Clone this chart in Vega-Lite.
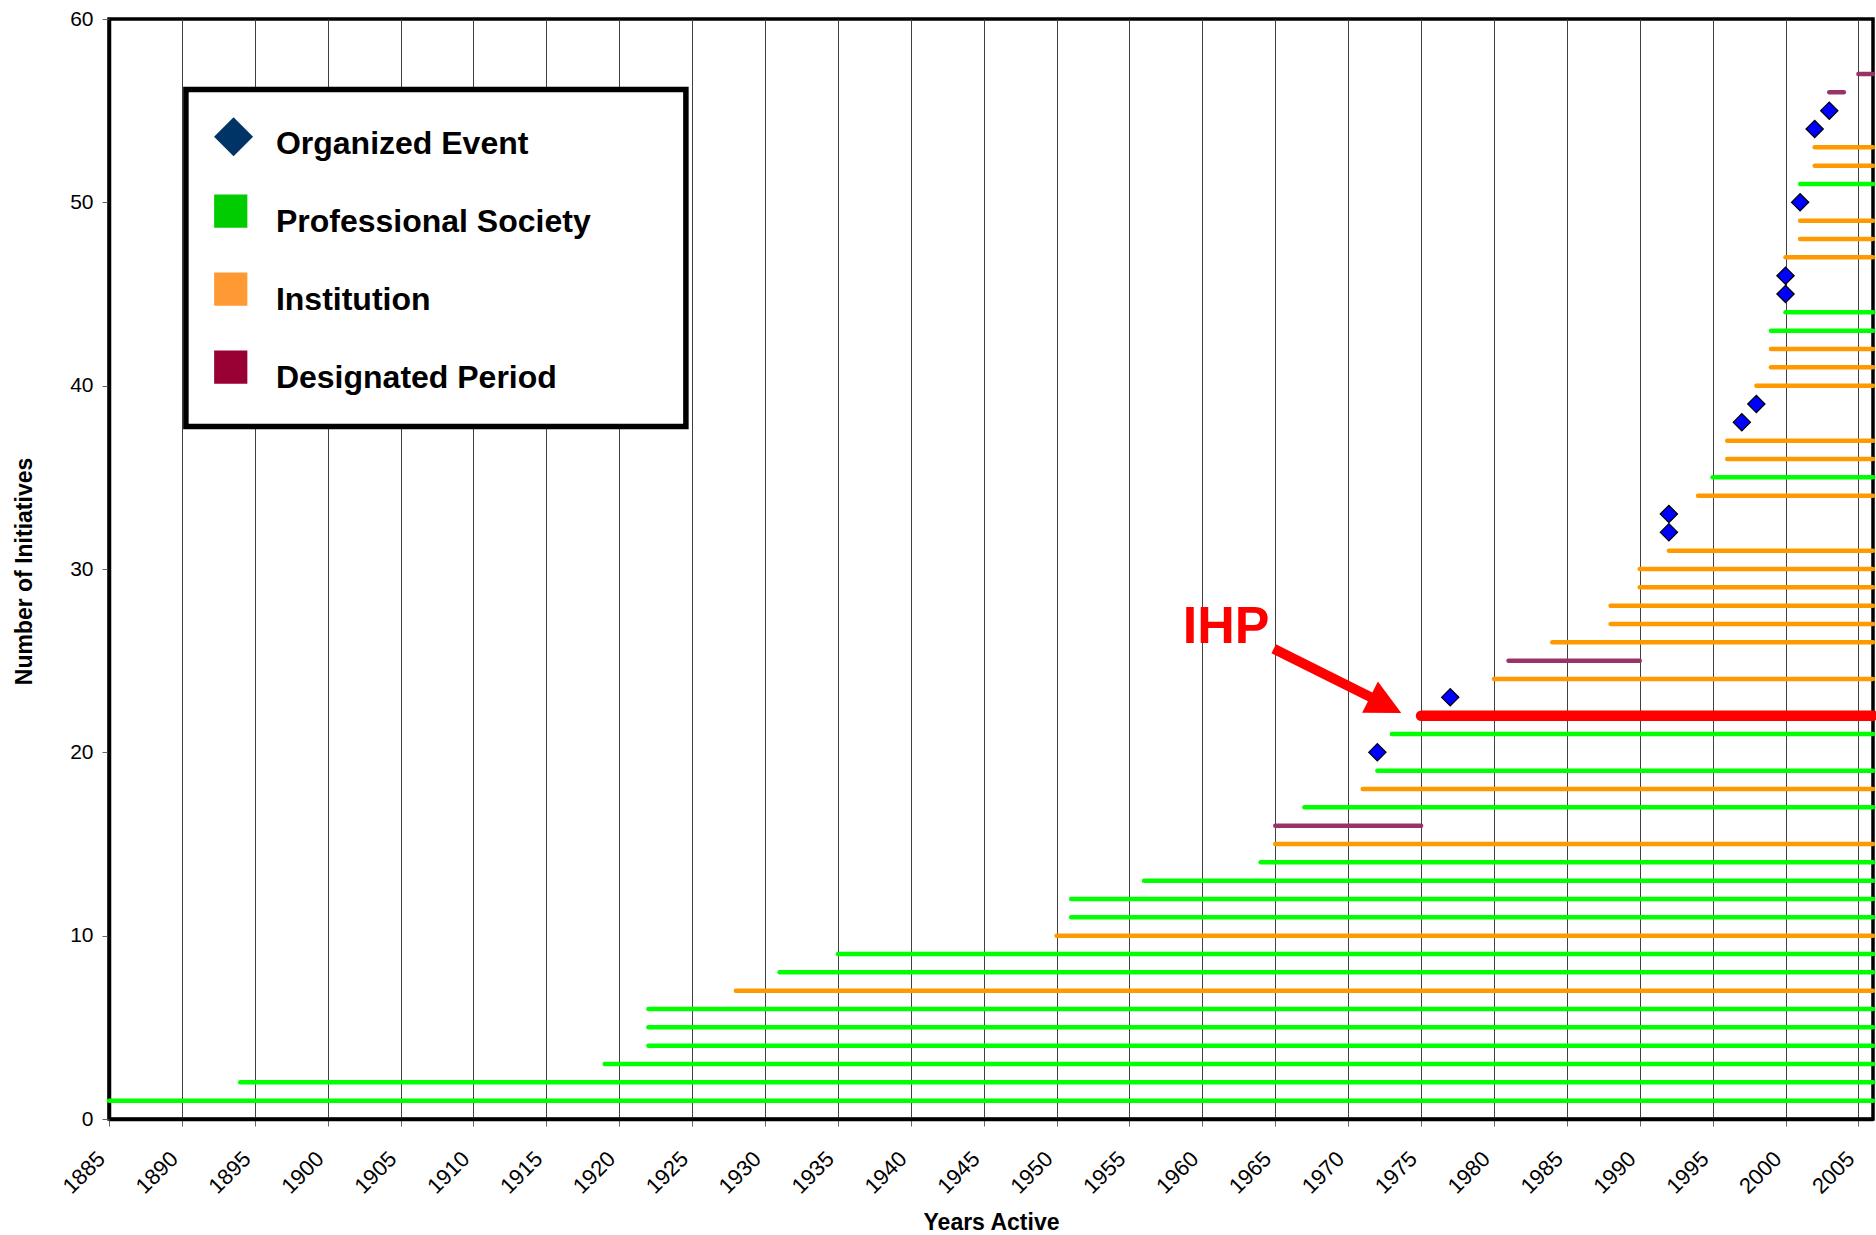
{
  "$schema": "https://vega.github.io/schema/vega-lite/v6.json",
  "width": 1764,
  "height": 1100,
  "autosize": {"type": "none"},
  "padding": {"left": 109, "top": 19, "right": 3, "bottom": 116},
  "background": "white",
  "config": {
    "font": "Liberation Sans",
    "view": {"stroke": "black", "strokeWidth": 3.5},
    "legend": {"strokeWidth": 5.5}
  },
  "datasets": {
    "items": [
      {"row": 1, "start": 1885, "end": 2006, "type": "Professional Society", "name": ""},
      {"row": 2, "start": 1894, "end": 2006, "type": "Professional Society", "name": ""},
      {"row": 3, "start": 1919, "end": 2006, "type": "Professional Society", "name": ""},
      {"row": 4, "start": 1922, "end": 2006, "type": "Professional Society", "name": ""},
      {"row": 5, "start": 1922, "end": 2006, "type": "Professional Society", "name": ""},
      {"row": 6, "start": 1922, "end": 2006, "type": "Professional Society", "name": ""},
      {"row": 7, "start": 1928, "end": 2006, "type": "Institution", "name": ""},
      {"row": 8, "start": 1931, "end": 2006, "type": "Professional Society", "name": ""},
      {"row": 9, "start": 1935, "end": 2006, "type": "Professional Society", "name": ""},
      {"row": 10, "start": 1950, "end": 2006, "type": "Institution", "name": ""},
      {"row": 11, "start": 1951, "end": 2006, "type": "Professional Society", "name": ""},
      {"row": 12, "start": 1951, "end": 2006, "type": "Professional Society", "name": ""},
      {"row": 13, "start": 1956, "end": 2006, "type": "Professional Society", "name": ""},
      {"row": 14, "start": 1964, "end": 2006, "type": "Professional Society", "name": ""},
      {"row": 15, "start": 1965, "end": 2006, "type": "Institution", "name": ""},
      {"row": 16, "start": 1965, "end": 1975, "type": "Designated Period", "name": ""},
      {"row": 17, "start": 1967, "end": 2006, "type": "Professional Society", "name": ""},
      {"row": 18, "start": 1971, "end": 2006, "type": "Institution", "name": ""},
      {"row": 19, "start": 1972, "end": 2006, "type": "Professional Society", "name": ""},
      {"row": 20, "start": 1972, "end": null, "type": "Organized Event", "name": ""},
      {"row": 21, "start": 1973, "end": 2006, "type": "Professional Society", "name": ""},
      {"row": 22, "start": 1975, "end": 2006, "type": "Institution", "name": "IHP"},
      {"row": 23, "start": 1977, "end": null, "type": "Organized Event", "name": ""},
      {"row": 24, "start": 1980, "end": 2006, "type": "Institution", "name": ""},
      {"row": 25, "start": 1981, "end": 1990, "type": "Designated Period", "name": ""},
      {"row": 26, "start": 1984, "end": 2006, "type": "Institution", "name": ""},
      {"row": 27, "start": 1988, "end": 2006, "type": "Institution", "name": ""},
      {"row": 28, "start": 1988, "end": 2006, "type": "Institution", "name": ""},
      {"row": 29, "start": 1990, "end": 2006, "type": "Institution", "name": ""},
      {"row": 30, "start": 1990, "end": 2006, "type": "Institution", "name": ""},
      {"row": 31, "start": 1992, "end": 2006, "type": "Institution", "name": ""},
      {"row": 32, "start": 1992, "end": null, "type": "Organized Event", "name": ""},
      {"row": 33, "start": 1992, "end": null, "type": "Organized Event", "name": ""},
      {"row": 34, "start": 1994, "end": 2006, "type": "Institution", "name": ""},
      {"row": 35, "start": 1995, "end": 2006, "type": "Professional Society", "name": ""},
      {"row": 36, "start": 1996, "end": 2006, "type": "Institution", "name": ""},
      {"row": 37, "start": 1996, "end": 2006, "type": "Institution", "name": ""},
      {"row": 38, "start": 1997, "end": null, "type": "Organized Event", "name": ""},
      {"row": 39, "start": 1998, "end": null, "type": "Organized Event", "name": ""},
      {"row": 40, "start": 1998, "end": 2006, "type": "Institution", "name": ""},
      {"row": 41, "start": 1999, "end": 2006, "type": "Institution", "name": ""},
      {"row": 42, "start": 1999, "end": 2006, "type": "Institution", "name": ""},
      {"row": 43, "start": 1999, "end": 2006, "type": "Professional Society", "name": ""},
      {"row": 44, "start": 2000, "end": 2006, "type": "Professional Society", "name": ""},
      {"row": 45, "start": 2000, "end": null, "type": "Organized Event", "name": ""},
      {"row": 46, "start": 2000, "end": null, "type": "Organized Event", "name": ""},
      {"row": 47, "start": 2000, "end": 2006, "type": "Institution", "name": ""},
      {"row": 48, "start": 2001, "end": 2006, "type": "Institution", "name": ""},
      {"row": 49, "start": 2001, "end": 2006, "type": "Institution", "name": ""},
      {"row": 50, "start": 2001, "end": null, "type": "Organized Event", "name": ""},
      {"row": 51, "start": 2001, "end": 2006, "type": "Professional Society", "name": ""},
      {"row": 52, "start": 2002, "end": 2006, "type": "Institution", "name": ""},
      {"row": 53, "start": 2002, "end": 2006, "type": "Institution", "name": ""},
      {"row": 54, "start": 2002, "end": null, "type": "Organized Event", "name": ""},
      {"row": 55, "start": 2003, "end": null, "type": "Organized Event", "name": ""},
      {"row": 56, "start": 2003, "end": 2004, "type": "Designated Period", "name": ""},
      {"row": 57, "start": 2005, "end": 2006, "type": "Designated Period", "name": ""}
    ]
  },
  "layer": [
    {
      "data": {"name": "items"},
      "transform": [{"filter": "datum.type !== 'Organized Event'"}],
      "mark": {"type": "rule", "strokeCap": "round"},
      "encoding": {
        "x": {
          "field": "start", "type": "quantitative", "title": "Years Active",
          "scale": {"domain": [1885, 2006], "nice": false, "zero": false},
          "axis": {
            "values": [1885,1890,1895,1900,1905,1910,1915,1920,1925,1930,1935,1940,1945,1950,1955,1960,1965,1970,1975,1980,1985,1990,1995,2000,2005],
            "format": "d",
            "grid": true, "gridColor": "#404040", "gridWidth": 1,
            "domainColor": "black", "domainWidth": 3.5,
            "tickColor": "#666666", "tickSize": 7, "tickWidth": 1,
            "labelAngle": -45, "labelAlign": "right", "labelBaseline": "middle",
            "labelPadding": 29, "labelOffset": -8,
            "labelFontSize": 22, "labelColor": "black", "labelFont": "Liberation Sans",
            "labelOverlap": false, "labelFlush": false, "labelBound": false,
            "titleFontSize": 23, "titleFontWeight": "bold", "titleColor": "black", "titleFont": "Liberation Sans",
            "titleY": 110, "titleBaseline": "alphabetic"
          }
        },
        "x2": {"field": "end"},
        "y": {
          "field": "row", "type": "quantitative", "title": "Number of Initiatives",
          "scale": {"domain": [0, 60], "nice": false},
          "axis": {
            "values": [0, 10, 20, 30, 40, 50, 60],
            "grid": false,
            "domainColor": "black", "domainWidth": 3.5,
            "tickColor": "#666666", "tickSize": 7, "tickWidth": 1,
            "labelPadding": 9, "labelFontSize": 21, "labelColor": "black", "labelFont": "Liberation Sans",
            "labelFlush": false,
            "titleFontSize": 23, "titleFontWeight": "bold", "titleColor": "black", "titleFont": "Liberation Sans",
            "titleX": -85, "titleY": 552, "titleAngle": 270, "titleAlign": "center", "titleBaseline": "middle"
          }
        },
        "stroke": {
          "field": "type", "type": "nominal",
          "scale": {"domain": ["Professional Society", "Institution", "Designated Period"], "range": ["#00FF00", "#FF9900", "#993366"]},
          "legend": null,
          "condition": {"test": "datum.name === 'IHP'", "value": "#FF0000"}
        },
        "strokeWidth": {"condition": {"test": "datum.name === 'IHP'", "value": 10.5}, "value": 4.5}
      }
    },
    {
      "data": {"name": "items"},
      "transform": [{"filter": "datum.type === 'Organized Event'"}],
      "mark": {"type": "point", "shape": "diamond", "filled": true, "fill": "#0000FF", "stroke": "black", "strokeWidth": 1.2, "size": 300, "opacity": 1},
      "encoding": {
        "x": {"field": "start", "type": "quantitative", "title": "Years Active"},
        "y": {"field": "row", "type": "quantitative", "title": "Number of Initiatives"}
      }
    },
    {
      "data": {"values": [{"x": 1964.89, "y": 25.65, "x2": 1972.02, "y2": 22.82}]},
      "mark": {"type": "rule", "stroke": "#FF0000", "strokeWidth": 10, "strokeCap": "butt"},
      "encoding": {
        "x": {"field": "x", "type": "quantitative", "title": "Years Active"},
        "y": {"field": "y", "type": "quantitative", "title": "Number of Initiatives"},
        "x2": {"field": "x2"},
        "y2": {"field": "y2"}
      }
    },
    {
      "data": {"values": [{"x": 1972.57, "y": 22.58}]},
      "mark": {"type": "point", "shape": "M1,0L-1,-1L-1,1Z", "size": 1225, "angle": 26.8, "filled": true, "fill": "#FF0000", "strokeWidth": 0, "opacity": 1},
      "encoding": {
        "x": {"field": "x", "type": "quantitative", "title": "Years Active"},
        "y": {"field": "y", "type": "quantitative", "title": "Number of Initiatives"}
      }
    },
    {
      "data": {"values": [{"text": "IHP", "x": 1958.65, "y": 25.96}]},
      "mark": {"type": "text", "align": "left", "baseline": "alphabetic", "fontSize": 52, "fontWeight": "bold", "font": "Liberation Sans", "fill": "#FF0000"},
      "encoding": {
        "x": {"field": "x", "type": "quantitative", "title": "Years Active"},
        "y": {"field": "y", "type": "quantitative", "title": "Number of Initiatives"},
        "text": {"field": "text"}
      }
    },
    {
      "data": {"name": "items"},
      "mark": {"type": "point", "filled": true, "opacity": 0, "size": 10},
      "encoding": {
        "x": {"field": "start", "type": "quantitative", "title": "Years Active"},
        "y": {"field": "row", "type": "quantitative", "title": "Number of Initiatives"},
        "fill": {
          "field": "type", "type": "nominal",
          "scale": {"domain": ["Organized Event", "Professional Society", "Institution", "Designated Period"], "range": ["#003366", "#00CC00", "#FF9933", "#990033"]},
          "legend": {
            "title": null, "orient": "none", "legendX": 76.9, "legendY": 70.5, "padding": 32,
            "strokeColor": "black", "fillColor": "white",
            "symbolSize": 2025, "symbolStrokeWidth": 0, "symbolOpacity": 1,
            "labelFontSize": 32, "labelFontWeight": "bold", "labelFont": "Liberation Sans", "labelColor": "black",
            "labelLimit": 1000, "labelOffset": 13, "rowPadding": 34,
            "labelExpr": "datum.label + '\u00a0\u00a0\u00a0\u00a0\u00a0\u00a0\u00a0\u200b'"
          }
        },
        "shape": {
          "field": "type", "type": "nominal",
          "scale": {"domain": ["Organized Event", "Professional Society", "Institution", "Designated Period"], "range": ["M-1.171,-0.324L-0.304,-1.191L0.563,-0.324L-0.304,0.543Z", "M-1.167,-1.221H0.309V0.255H-1.167Z", "M-1.167,-1.221H0.309V0.255H-1.167Z", "M-1.167,-1.221H0.309V0.255H-1.167Z"]},
          "legend": {
            "title": null, "orient": "none", "legendX": 76.9, "legendY": 70.5, "padding": 32,
            "strokeColor": "black", "fillColor": "white",
            "symbolSize": 2025, "symbolStrokeWidth": 0, "symbolOpacity": 1,
            "labelFontSize": 32, "labelFontWeight": "bold", "labelFont": "Liberation Sans", "labelColor": "black",
            "labelLimit": 1000, "labelOffset": 13, "rowPadding": 34,
            "labelExpr": "datum.label + '\u00a0\u00a0\u00a0\u00a0\u00a0\u00a0\u00a0\u200b'"
          }
        }
      }
    }
  ]
}
